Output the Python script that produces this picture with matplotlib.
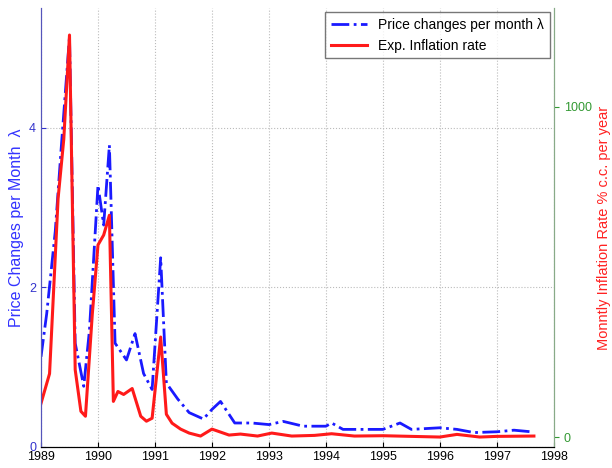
import numpy as np
import matplotlib.pyplot as plt

plt.rcParams['font.family'] = ['Liberation Sans', 'DejaVu Sans']

# price changes per month (left axis)
t_lam = [1989.0, 1989.1, 1989.25, 1989.35, 1989.5, 1989.6, 1989.75, 1989.85, 1990.0, 1990.1,
         1990.2, 1990.3, 1990.5, 1990.65, 1990.8, 1990.95, 1991.1, 1991.2, 1991.4, 1991.6,
         1991.85, 1992.0, 1992.15, 1992.4, 1992.7, 1993.0, 1993.25, 1993.6, 1994.0, 1994.1,
         1994.3, 1994.6, 1995.0, 1995.3, 1995.5, 1996.0, 1996.3, 1996.6, 1997.0, 1997.3, 1997.6]
lam = [1.13, 1.67, 2.7, 3.7, 5.14, 1.3, 0.76, 1.46, 3.28, 2.78,
       3.78, 1.3, 1.09, 1.42, 0.92, 0.72, 2.37, 0.8, 0.6, 0.43,
       0.35, 0.47, 0.57, 0.3, 0.3, 0.28, 0.32, 0.26, 0.26, 0.3,
       0.22, 0.22, 0.22, 0.3, 0.22, 0.24, 0.22, 0.18, 0.19, 0.21, 0.19]

# expected inflation rate (right axis)
t_inf = [1989.0, 1989.15, 1989.3, 1989.4, 1989.5, 1989.6, 1989.7, 1989.78, 1989.9, 1990.0,
         1990.1, 1990.2, 1990.27, 1990.35, 1990.45, 1990.6, 1990.75, 1990.85, 1990.95, 1991.1,
         1991.2, 1991.3, 1991.45, 1991.6, 1991.8, 1992.0, 1992.3, 1992.5, 1992.8, 1993.05,
         1993.4, 1993.8, 1994.1, 1994.5, 1995.0, 1995.5, 1996.0, 1996.3, 1996.7, 1997.0, 1997.65]
inf = [102, 192, 723, 903, 1218, 204, 78, 63, 372, 582,
       612, 672, 108, 138, 129, 147, 63, 48, 57, 303,
       69, 42, 24, 12, 3, 24, 6, 9, 3, 12,
       3, 5, 10, 3, 4, 2, 0, 8, 0, 2, 3]

fig, ax = plt.subplots(figsize=(6.12, 4.68), dpi=100)
fig.subplots_adjust(left=0.067, right=0.905, top=0.983, bottom=0.045)
ax2 = ax.twinx()

l1, = ax.plot(t_lam, lam, color='#1a1aff', ls='-.', lw=2, label='Price changes per month λ')
l2, = ax2.plot(t_inf, inf, color='#ff1a1a', lw=2.2, label='Exp. Inflation rate')

ax.set_xlim(1989, 1998)
ax.set_ylim(0, 5.5)
ax2.set_ylim(-30, 1300)
ax.set_xticks(range(1989, 1999))
ax.set_yticks([0, 2, 4])
ax2.set_yticks([0, 1000])
ax.grid(True, ls=':', color='#bbbbbb')
ax.tick_params(axis='y', colors='#3333cc', labelsize=9, direction='in')
ax.tick_params(axis='x', labelsize=9, direction='in', pad=3)
ax2.tick_params(axis='y', colors='#339933', labelsize=9, direction='out')
ax.set_ylabel('Price Changes per Month  λ', color='#3333ff', fontsize=11.5)
ax2.set_ylabel('Monntly Inflation Rate % c.c. per year', color='#ff2222', fontsize=10.5, labelpad=4)
for a in (ax, ax2):
    a.spines['top'].set_visible(False)
    a.spines['left'].set_color('#5555bb')
    a.spines['right'].set_color('#88aa88')
ax.legend(handles=[l1, l2], loc='upper right', fontsize=10, fancybox=False,
          edgecolor='#555555', borderaxespad=0.3, handlelength=2.6)

fig.savefig('out.png')
